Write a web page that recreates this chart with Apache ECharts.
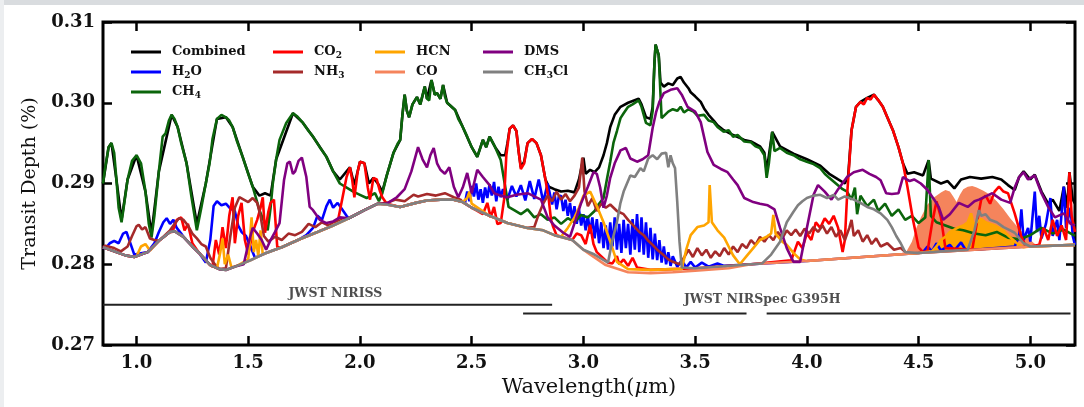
<!DOCTYPE html>
<html>
<head>
<meta charset="utf-8">
<script src="https://cdn.jsdelivr.net/npm/echarts@6/dist/echarts.min.js"></script>
<style>
  html, body { margin: 0; padding: 0; background: #fff; }
  #chart { width: 1084px; height: 407px; }
</style>
</head>
<body>
<div id="chart"></div>
<script>
const serif = '"DejaVu Serif", "Liberation Serif", serif';

// Tick values of the wavelength axis (um)
const xTicks = [1.0, 1.5, 2.0, 2.5, 3.0, 3.5, 4.0, 4.5, 5.0];

// Shared continuum that every molecule sits on where it has no band
const floor = [[0.85,0.2821],[0.90,0.2816],[0.95,0.2811],[0.99,0.2809],[1.05,0.2815],[1.10,0.2829],[1.15,0.2840],[1.17,0.2841],[1.21,0.2834],[1.25,0.2822],[1.28,0.2814],[1.33,0.2799],[1.37,0.2794],[1.40,0.2793],[1.45,0.2798],[1.51,0.2805],[1.58,0.2814],[1.65,0.2821],[1.73,0.2831],[1.81,0.2840],[1.88,0.2848],[1.95,0.2857],[2.02,0.2867],[2.08,0.2875],[2.12,0.2874],[2.18,0.2871],[2.25,0.2876],[2.30,0.2879],[2.36,0.2880],[2.42,0.2880],[2.46,0.2877],[2.50,0.2870],[2.58,0.2860],[2.66,0.2851],[2.75,0.2845],[2.82,0.2842],[2.87,0.2836],[2.95,0.2830],[3.00,0.2818],[3.05,0.2812],[3.11,0.2802],[3.20,0.2794],[3.30,0.2793],[3.40,0.2794],[3.50,0.2795],[3.75,0.2800],[4.00,0.2804],[4.25,0.2809],[4.50,0.2814],[4.75,0.2818],[5.00,0.2822],[5.20,0.2824]];

const combined = [[0.85,0.2900],[0.875,0.2945],[0.888,0.2950],[0.91,0.2905],[0.933,0.2855],[0.96,0.2905],[1.0,0.2935],[1.04,0.2890],[1.067,0.2838],[1.10,0.2915],[1.157,0.2985],[1.184,0.2970],[1.224,0.2925],[1.27,0.2850],[1.31,0.2900],[1.36,0.2980],[1.40,0.2982],[1.43,0.2970],[1.475,0.2933],[1.52,0.2896],[1.55,0.2885],[1.575,0.2888],[1.60,0.2885],[1.625,0.2930],[1.70,0.2987],[1.745,0.2975],[1.79,0.2958],[1.85,0.2933],[1.88,0.2915],[1.91,0.2905],[1.94,0.2915],[1.955,0.2920],[1.975,0.2898],[2.0,0.2927],[2.02,0.2925],[2.04,0.2900],[2.06,0.2907],[2.08,0.2900],[2.10,0.2890],[2.12,0.2910],[2.15,0.2938],[2.18,0.2954],[2.19,0.2985],[2.20,0.3010],[2.21,0.2990],[2.22,0.2982],[2.235,0.2998],[2.255,0.3007],[2.27,0.2998],[2.29,0.3020],[2.30,0.3005],[2.32,0.3028],[2.335,0.3010],[2.345,0.3012],[2.36,0.3005],[2.372,0.3022],[2.39,0.3000],[2.426,0.2991],[2.46,0.2970],[2.50,0.2945],[2.525,0.2933],[2.55,0.2954],[2.565,0.2945],[2.58,0.2958],[2.605,0.2945],[2.63,0.2935],[2.65,0.2935],[2.66,0.2950],[2.67,0.2968],[2.685,0.2972],[2.70,0.2965],[2.71,0.2940],[2.72,0.2920],[2.735,0.2927],[2.75,0.2950],[2.77,0.2955],[2.79,0.2950],[2.81,0.2935],[2.83,0.2905],[2.845,0.2896],[2.87,0.2893],[2.90,0.2890],[2.93,0.2891],[2.96,0.2889],[2.98,0.2905],[3.0,0.2932],[3.01,0.2912],[3.03,0.2917],[3.05,0.2914],[3.07,0.2920],[3.09,0.2935],[3.105,0.2950],[3.12,0.2970],[3.14,0.2985],[3.166,0.2995],[3.20,0.3000],[3.247,0.3005],[3.26,0.2998],[3.28,0.2982],[3.30,0.2980],[3.31,0.2995],[3.318,0.3050],[3.323,0.3072],[3.337,0.3059],[3.345,0.3025],[3.36,0.3020],[3.38,0.3024],[3.40,0.3022],[3.42,0.3030],[3.435,0.3032],[3.45,0.3025],[3.47,0.3018],[3.48,0.3013],[3.50,0.3008],[3.525,0.3001],[3.54,0.2993],[3.56,0.2985],[3.583,0.2978],[3.60,0.2972],[3.628,0.2966],[3.67,0.2960],[3.72,0.2954],[3.75,0.2952],[3.79,0.2946],[3.81,0.2938],[3.82,0.2915],[3.845,0.2964],[3.88,0.2946],[3.94,0.2937],[4.0,0.2930],[4.06,0.2922],[4.10,0.2912],[4.14,0.2905],[4.17,0.2900],[4.185,0.2910],[4.20,0.2966],[4.22,0.2995],[4.24,0.3001],[4.27,0.3006],[4.30,0.3010],[4.32,0.3003],[4.34,0.2995],[4.36,0.2982],[4.385,0.2966],[4.41,0.2945],[4.43,0.2925],[4.45,0.2912],[4.48,0.2914],[4.52,0.2910],[4.545,0.2929],[4.555,0.2906],[4.60,0.2900],[4.63,0.2903],[4.66,0.2894],[4.69,0.2905],[4.73,0.2908],[4.78,0.2906],[4.83,0.2908],[4.87,0.2905],[4.90,0.2898],[4.93,0.2892],[4.95,0.2908],[4.97,0.2915],[5.0,0.2905],[5.02,0.2911],[5.05,0.2890],[5.08,0.2875],[5.10,0.2880],[5.13,0.2866],[5.15,0.2896],[5.165,0.2870],[5.175,0.2914],[5.19,0.2880],[5.20,0.2875]];

const ch4 = [[0.85,0.2900],[0.86,0.2920],[0.875,0.2945],[0.888,0.2950],[0.90,0.2938],[0.91,0.2905],[0.92,0.2870],[0.933,0.2852],[0.945,0.2875],[0.96,0.2905],[0.98,0.2928],[1.0,0.2935],[1.02,0.2925],[1.04,0.2890],[1.055,0.2850],[1.067,0.2833],[1.08,0.2860],[1.10,0.2915],[1.117,0.2958],[1.13,0.2962],[1.145,0.2978],[1.157,0.2985],[1.17,0.2980],[1.184,0.2970],[1.20,0.2950],[1.224,0.2925],[1.245,0.2885],[1.27,0.2842],[1.29,0.2870],[1.31,0.2900],[1.327,0.2925],[1.34,0.2955],[1.36,0.2980],[1.38,0.2985],[1.40,0.2982],[1.415,0.2978],[1.43,0.2970],[1.45,0.2952],[1.475,0.2933],[1.50,0.2912],[1.52,0.2896],[1.55,0.2867],[1.587,0.2842],[1.60,0.2870],[1.61,0.2900],[1.625,0.2930],[1.64,0.2954],[1.67,0.2975],[1.70,0.2987],[1.72,0.2983],[1.745,0.2975],[1.77,0.2965],[1.79,0.2958],[1.82,0.2945],[1.85,0.2933],[1.88,0.2915],[1.91,0.2900],[1.946,0.2894],[1.97,0.2890],[2.00,0.2886],[2.03,0.2882],[2.067,0.2888],[2.085,0.2878],[2.10,0.2888],[2.12,0.2910],[2.15,0.2938],[2.17,0.2950],[2.18,0.2954],[2.19,0.2985],[2.20,0.3010],[2.21,0.2990],[2.22,0.2982],[2.235,0.2998],[2.255,0.3007],[2.27,0.2998],[2.29,0.3020],[2.30,0.3005],[2.31,0.3003],[2.32,0.3028],[2.335,0.3010],[2.345,0.3012],[2.36,0.3005],[2.372,0.3022],[2.38,0.3008],[2.39,0.3000],[2.41,0.2995],[2.426,0.2991],[2.44,0.2980],[2.46,0.2970],[2.48,0.2958],[2.50,0.2945],[2.525,0.2933],[2.54,0.2945],[2.55,0.2954],[2.565,0.2945],[2.58,0.2958],[2.605,0.2945],[2.63,0.2929],[2.65,0.2896],[2.665,0.2871],[2.69,0.2867],[2.72,0.2862],[2.75,0.2868],[2.78,0.2858],[2.81,0.2862],[2.84,0.2855],[2.87,0.2858],[2.90,0.2850],[2.93,0.2857],[2.96,0.2852],[2.99,0.2861],[3.02,0.2858],[3.05,0.2866],[3.07,0.2875],[3.09,0.2882],[3.105,0.2905],[3.12,0.2927],[3.135,0.2951],[3.15,0.2965],[3.166,0.2981],[3.18,0.2987],[3.20,0.2995],[3.22,0.2998],[3.247,0.3003],[3.26,0.2995],[3.28,0.2975],[3.30,0.2972],[3.31,0.2990],[3.318,0.3050],[3.323,0.3072],[3.33,0.3065],[3.337,0.3059],[3.345,0.3010],[3.35,0.2981],[3.365,0.2985],[3.38,0.2989],[3.40,0.2992],[3.42,0.2990],[3.435,0.2995],[3.45,0.2988],[3.47,0.2992],[3.493,0.2989],[3.51,0.2984],[3.54,0.2985],[3.56,0.2978],[3.583,0.2976],[3.60,0.2970],[3.628,0.2964],[3.65,0.2966],[3.67,0.2958],[3.69,0.2960],[3.72,0.2952],[3.75,0.2951],[3.77,0.2946],[3.79,0.2944],[3.81,0.2935],[3.82,0.2907],[3.83,0.2925],[3.845,0.2964],[3.855,0.2940],[3.88,0.2944],[3.91,0.2938],[3.94,0.2935],[3.97,0.2930],[4.00,0.2927],[4.03,0.2924],[4.06,0.2919],[4.08,0.2912],[4.10,0.2907],[4.13,0.2900],[4.16,0.2893],[4.18,0.2890],[4.20,0.2880],[4.215,0.2895],[4.225,0.2862],[4.24,0.2885],[4.27,0.2872],[4.30,0.2880],[4.32,0.2866],[4.35,0.2875],[4.38,0.2860],[4.41,0.2868],[4.44,0.2855],[4.47,0.2860],[4.50,0.2851],[4.53,0.2858],[4.545,0.2929],[4.555,0.2860],[4.58,0.2852],[4.62,0.2848],[4.66,0.2844],[4.70,0.2842],[4.75,0.2838],[4.80,0.2836],[4.85,0.2840],[4.90,0.2833],[4.95,0.2831],[5.00,0.2836],[5.05,0.2845],[5.10,0.2838],[5.15,0.2843],[5.20,0.2835]];

// Bands above the continuum, one list per feature
const h2oBands = [
  [[0.86,0.2819],[0.88,0.2826],[0.90,0.2829],[0.92,0.2826],[0.94,0.2838],[0.955,0.2840],[0.97,0.2828],[0.99,0.2812]],
  [[1.08,0.2826],[1.10,0.2840],[1.12,0.2852],[1.135,0.2857],[1.15,0.2850],[1.165,0.2855],[1.18,0.2845],[1.20,0.2838]],
  [[1.31,0.2802],[1.33,0.2830],[1.345,0.2872],[1.36,0.2878],[1.38,0.2873],[1.40,0.2875],[1.42,0.2869],[1.44,0.2866],[1.455,0.2848],[1.47,0.2840],[1.49,0.2835],[1.51,0.2822],[1.53,0.2808]],
  [[1.76,0.2836],[1.79,0.2845],[1.81,0.2860],[1.83,0.2855],[1.85,0.2872],[1.865,0.2880],[1.88,0.2870],[1.90,0.2876],[1.92,0.2868],[1.94,0.2860]],
  [[2.47,0.2876],[2.48,0.2890],[2.49,0.2878],[2.50,0.2897],[2.51,0.2884],[2.52,0.2900],[2.53,0.2880],[2.54,0.2893],[2.55,0.2876],[2.56,0.2895],[2.57,0.2882],[2.58,0.2899],[2.59,0.2885],[2.60,0.2902],[2.61,0.2878],[2.62,0.2896],[2.63,0.2883],[2.64,0.2893],[2.66,0.2880],[2.68,0.2897],[2.70,0.2884],[2.72,0.2898],[2.74,0.2879],[2.76,0.2903],[2.78,0.2881],[2.80,0.2905],[2.82,0.2877],[2.84,0.2900],[2.86,0.2874],[2.87,0.2889],[2.88,0.2868],[2.89,0.2884],[2.90,0.2885],[2.91,0.2866],[2.92,0.2880],[2.93,0.2860],[2.94,0.2876],[2.95,0.2855],[2.96,0.2872],[2.97,0.2850],[2.98,0.2868],[2.99,0.2848],[3.00,0.2862],[3.01,0.2842],[3.02,0.2860],[3.03,0.2838],[3.04,0.2858],[3.05,0.2832],[3.06,0.2856],[3.07,0.2826],[3.08,0.2852],[3.09,0.2820],[3.10,0.2848],[3.11,0.2818],[3.12,0.2852],[3.13,0.2822],[3.14,0.2858],[3.15,0.2818],[3.16,0.2850],[3.17,0.2814],[3.18,0.2855],[3.19,0.2820],[3.20,0.2850],[3.21,0.2812],[3.22,0.2856],[3.23,0.2818],[3.24,0.2862],[3.25,0.2815],[3.26,0.2858],[3.27,0.2812],[3.28,0.2852],[3.29,0.2808],[3.30,0.2845],[3.31,0.2806],[3.32,0.2838],[3.33,0.2805],[3.34,0.2830],[3.35,0.2802],[3.36,0.2822],[3.37,0.2800],[3.38,0.2815],[3.39,0.2798],[3.40,0.2810],[3.42,0.2797],[3.44,0.2805],[3.46,0.2796],[3.48,0.2803],[3.50,0.2796],[3.53,0.2802],[3.56,0.2797],[3.60,0.2801],[3.63,0.2798]],
  [[4.52,0.2815],[4.54,0.2822],[4.56,0.2816],[4.58,0.2826],[4.60,0.2817],[4.64,0.2824],[4.66,0.2817],[4.69,0.2827],[4.71,0.2818]],
  [[4.93,0.2822],[4.95,0.2835],[4.96,0.2868],[4.97,0.2830],[4.99,0.2845],[5.00,0.2828],[5.02,0.2890],[5.03,0.2840],[5.04,0.2860],[5.05,0.2832],[5.07,0.2850],[5.09,0.2882],[5.10,0.2835],[5.12,0.2855],[5.13,0.2830],[5.15,0.2896],[5.16,0.2845],[5.18,0.2870],[5.19,0.2835]]
];

const co2Bands = [
  [[1.16,0.2840],[1.18,0.2855],[1.20,0.2858],[1.215,0.2842],[1.23,0.2850],[1.25,0.2826]],
  [[1.34,0.2797],[1.355,0.2830],[1.37,0.2812],[1.385,0.2846],[1.40,0.2820],[1.415,0.2860],[1.43,0.2883],[1.44,0.2826],[1.455,0.2860],[1.47,0.2876],[1.485,0.2830],[1.50,0.2812],[1.52,0.2840],[1.54,0.2855],[1.555,0.2870],[1.565,0.2883],[1.575,0.2839],[1.59,0.2865],[1.60,0.2876],[1.615,0.2880],[1.63,0.2821]],
  [[1.90,0.2852],[1.92,0.2880],[1.94,0.2908],[1.955,0.2920],[1.965,0.2905],[1.975,0.2883],[1.99,0.2915],[2.0,0.2927],[2.02,0.2925],[2.035,0.2895],[2.045,0.2880],[2.06,0.2907],[2.075,0.2905],[2.09,0.2890],[2.10,0.2883],[2.12,0.2875]],
  [[2.55,0.2862],[2.57,0.2876],[2.585,0.2858],[2.60,0.2871],[2.615,0.2850],[2.63,0.2851],[2.645,0.2880],[2.655,0.2935],[2.67,0.2968],[2.685,0.2972],[2.70,0.2965],[2.71,0.2940],[2.72,0.2918],[2.735,0.2925],[2.75,0.2950],[2.77,0.2955],[2.79,0.2950],[2.81,0.2935],[2.83,0.2905],[2.845,0.2880],[2.855,0.2855],[2.865,0.2846],[2.88,0.2836]],
  [[2.95,0.2830],[2.97,0.2838],[2.99,0.2836],[3.01,0.2825],[3.03,0.2849],[3.045,0.2825],[3.06,0.2815]],
  [[3.13,0.2801],[3.15,0.2810],[3.16,0.2800],[3.18,0.2806],[3.20,0.2798],[3.22,0.2808],[3.24,0.2796]],
  [[3.93,0.2805],[3.96,0.2828],[3.98,0.2820],[4.00,0.2838],[4.02,0.2830],[4.04,0.2852],[4.06,0.2845],[4.08,0.2857],[4.10,0.2850],[4.12,0.2860],[4.14,0.2845],[4.16,0.2815],[4.17,0.2830],[4.18,0.2885],[4.20,0.2966],[4.22,0.2995],[4.24,0.3001],[4.255,0.2998],[4.27,0.3006],[4.285,0.3004],[4.30,0.3010],[4.32,0.3003],[4.34,0.2995],[4.36,0.2982],[4.385,0.2966],[4.41,0.2945],[4.43,0.2925],[4.45,0.2896],[4.475,0.2855],[4.50,0.2821],[4.52,0.2815]],
  [[4.54,0.2816],[4.56,0.2850],[4.58,0.2878],[4.60,0.2858],[4.62,0.2820]],
  [[4.74,0.2818],[4.76,0.2850],[4.78,0.2880],[4.80,0.2885],[4.82,0.2875],[4.84,0.2890],[4.86,0.2896],[4.88,0.2890],[4.90,0.2888],[4.93,0.2863],[4.96,0.2834],[4.98,0.2822]],
  [[5.04,0.2824],[5.06,0.2845],[5.08,0.2830],[5.10,0.2855],[5.12,0.2835],[5.14,0.2848],[5.16,0.2830],[5.17,0.2880],[5.175,0.2914],[5.185,0.2860],[5.20,0.2840]]
];

const nh3Bands = [
  [[0.86,0.2823],[0.90,0.2820],[0.93,0.2816],[0.96,0.2822],[0.98,0.2835],[1.00,0.2847],[1.01,0.2849],[1.025,0.2843],[1.04,0.2846],[1.06,0.2832],[1.08,0.2830]],
  [[1.15,0.2842],[1.17,0.2850],[1.19,0.2857],[1.21,0.2855],[1.23,0.2848],[1.25,0.2838],[1.27,0.2832],[1.29,0.2825],[1.31,0.2822],[1.33,0.2808],[1.35,0.2800]],
  [[1.40,0.2795],[1.42,0.2835],[1.44,0.2870],[1.46,0.2883],[1.48,0.2880],[1.50,0.2877],[1.52,0.2882],[1.54,0.2876],[1.555,0.2860],[1.57,0.2835],[1.59,0.2828],[1.62,0.2834],[1.65,0.2830],[1.68,0.2838],[1.71,0.2836],[1.74,0.2840],[1.77,0.2850],[1.80,0.2846],[1.83,0.2852],[1.86,0.2848],[1.88,0.2852]],
  [[2.12,0.2876],[2.16,0.2880],[2.20,0.2878],[2.24,0.2886],[2.26,0.2884],[2.30,0.2887],[2.34,0.2885],[2.38,0.2888],[2.42,0.2883],[2.45,0.2880]],
  [[2.78,0.2846],[2.80,0.2862],[2.82,0.2875],[2.84,0.2885],[2.86,0.2878],[2.88,0.2890],[2.90,0.2880],[2.92,0.2887],[2.94,0.2878],[2.96,0.2885],[2.98,0.2895],[2.995,0.2932],[3.005,0.2890],[3.02,0.2872],[3.04,0.2882],[3.06,0.2866],[3.08,0.2875],[3.10,0.2870],[3.12,0.2874],[3.15,0.2866],[3.18,0.2862],[3.20,0.2855],[3.22,0.2849],[3.25,0.2840],[3.27,0.2836],[3.29,0.2829],[3.31,0.2824],[3.33,0.2818],[3.36,0.2811],[3.38,0.2806],[3.40,0.2803],[3.43,0.2800],[3.45,0.2808],[3.47,0.2818],[3.49,0.2809],[3.51,0.2820],[3.53,0.2811],[3.55,0.2818],[3.57,0.2808],[3.59,0.2816],[3.61,0.2810],[3.63,0.2820],[3.65,0.2812],[3.67,0.2822],[3.69,0.2815],[3.71,0.2825],[3.73,0.2820],[3.75,0.2830],[3.77,0.2824],[3.79,0.2834],[3.81,0.2828],[3.83,0.2836],[3.85,0.2830],[3.87,0.2840],[3.89,0.2832],[3.91,0.2842],[3.93,0.2836],[3.95,0.2843],[3.97,0.2835],[3.99,0.2844],[4.01,0.2838],[4.03,0.2846],[4.05,0.2840],[4.07,0.2848],[4.09,0.2838],[4.11,0.2846],[4.13,0.2834],[4.15,0.2842],[4.17,0.2830],[4.19,0.2845],[4.20,0.2855],[4.21,0.2835],[4.23,0.2842],[4.25,0.2828],[4.27,0.2836],[4.29,0.2825],[4.31,0.2832],[4.33,0.2822],[4.36,0.2826],[4.39,0.2818],[4.42,0.2820],[4.45,0.2813]]
];

// Upper edge of the dense HCN band near 4.75 um
const hcnLobe = [[4.56,0.2816],[4.58,0.2822],[4.60,0.2830],[4.62,0.2834],[4.64,0.2840],[4.66,0.2843],[4.68,0.2846],[4.70,0.2848],[4.72,0.2852],[4.735,0.2863],[4.745,0.2850],[4.76,0.2852],[4.78,0.2856],[4.80,0.2852],[4.82,0.2850],[4.84,0.2848],[4.86,0.2845],[4.88,0.2842],[4.90,0.2836],[4.92,0.2831],[4.94,0.2826],[4.97,0.2821]];

const hcnBands = [
  [[1.00,0.2810],[1.02,0.2822],[1.04,0.2825],[1.06,0.2817]],
  [[1.36,0.2795],[1.375,0.2815],[1.385,0.2832],[1.395,0.2800],[1.41,0.2812],[1.425,0.2796]],
  [[1.50,0.2806],[1.51,0.2840],[1.515,0.2858],[1.525,0.2815],[1.535,0.2830],[1.545,0.2810],[1.555,0.2842],[1.565,0.2812]],
  [[2.46,0.2877],[2.48,0.2882],[2.49,0.2890],[2.50,0.2875]],
  [[2.90,0.2834],[2.93,0.2845],[2.96,0.2858],[2.98,0.2870],[3.00,0.2885],[3.03,0.2890],[3.06,0.2872],[3.09,0.2852],[3.12,0.2828],[3.15,0.2803]],
  [[3.44,0.2794],[3.46,0.2818],[3.48,0.2836],[3.51,0.2846],[3.54,0.2848],[3.56,0.2852],[3.565,0.2898],[3.575,0.2852],[3.60,0.2842],[3.63,0.2833],[3.65,0.2822],[3.67,0.2811],[3.70,0.2800],[3.73,0.2810],[3.76,0.2820],[3.79,0.2830],[3.82,0.2834],[3.84,0.2838],[3.85,0.2861],[3.86,0.2838],[3.89,0.2828],[3.91,0.2824],[3.94,0.2814],[3.97,0.2806]],
  hcnLobe
];

const coBands = [
  [[3.02,0.2814],[3.10,0.2799],[3.20,0.2790],[3.30,0.2789],[3.40,0.2790],[3.50,0.2792],[3.65,0.2795]]
];

// Upper edge of the dense CO band near 4.6 um
const coLobe = [[4.44,0.2813],[4.47,0.2828],[4.49,0.2845],[4.51,0.2858],[4.54,0.2874],[4.57,0.2883],[4.60,0.2889],[4.62,0.2892],[4.64,0.2890],[4.655,0.2884],[4.67,0.2877],[4.685,0.2886],[4.70,0.2893],[4.72,0.2896],[4.74,0.2897],[4.76,0.2895],[4.79,0.2891],[4.82,0.2886],[4.85,0.2878],[4.88,0.2868],[4.91,0.2857],[4.94,0.2847],[4.97,0.2838],[5.00,0.2830],[5.03,0.2823]];

const dmsBands = [
  [[1.48,0.2800],[1.50,0.2825],[1.52,0.2845],[1.54,0.2838],[1.56,0.2830],[1.58,0.2818],[1.60,0.2830],[1.62,0.2840],[1.64,0.2851],[1.66,0.2904],[1.675,0.2925],[1.686,0.2927],[1.70,0.2912],[1.71,0.2915],[1.725,0.2928],[1.74,0.2932],[1.75,0.2920],[1.76,0.2908],[1.775,0.2871],[1.79,0.2867],[1.82,0.2855],[1.85,0.2851],[1.88,0.2853],[1.91,0.2858]],
  [[2.12,0.2875],[2.165,0.2883],[2.20,0.2893],[2.23,0.2915],[2.26,0.2945],[2.28,0.2930],[2.30,0.2920],[2.315,0.2935],[2.33,0.2944],[2.345,0.2925],[2.36,0.2917],[2.38,0.2912],[2.40,0.2920],[2.42,0.2896],[2.44,0.2883],[2.46,0.2895],[2.48,0.2913],[2.50,0.2888],[2.525,0.2917],[2.55,0.2908],[2.58,0.2898],[2.60,0.2888],[2.63,0.2885],[2.66,0.2883],[2.70,0.2886],[2.75,0.2888],[2.78,0.2884],[2.81,0.2880],[2.84,0.2858],[2.87,0.2848],[2.91,0.2839],[2.94,0.2834],[2.965,0.2855],[2.99,0.2876],[3.02,0.2896],[3.045,0.2914],[3.06,0.2912],[3.075,0.2895],[3.09,0.2870],[3.105,0.2885],[3.12,0.2907],[3.14,0.2925],[3.166,0.2941],[3.19,0.2944],[3.21,0.2931],[3.24,0.2927],[3.265,0.2930],[3.29,0.2935],[3.31,0.2969],[3.325,0.2988],[3.34,0.3001],[3.36,0.3012],[3.39,0.3016],[3.42,0.3018],[3.44,0.3010],[3.466,0.2995],[3.50,0.2989],[3.525,0.2976],[3.555,0.2939],[3.583,0.2923],[3.615,0.2918],[3.645,0.2914],[3.67,0.2905],[3.69,0.2898],[3.72,0.2882],[3.76,0.2877],[3.79,0.2875],[3.825,0.2873],[3.855,0.2868],[3.88,0.2845],[3.91,0.2820],[3.94,0.2803],[3.97,0.2803],[4.0,0.2845],[4.03,0.2886],[4.05,0.2898],[4.08,0.2890],[4.11,0.2880],[4.14,0.2893],[4.18,0.2908],[4.21,0.2914],[4.25,0.2917],[4.28,0.2912],[4.31,0.2908],[4.33,0.2904],[4.355,0.2888],[4.38,0.2887],[4.41,0.2888],[4.43,0.2908],[4.46,0.2903],[4.48,0.2905],[4.51,0.2900],[4.54,0.2892],[4.57,0.2880],[4.59,0.2871],[4.61,0.2855],[4.64,0.2862],[4.68,0.2876],[4.72,0.2871],[4.75,0.2878],[4.77,0.2880],[4.80,0.2884],[4.83,0.2888],[4.87,0.2880],[4.91,0.2876],[4.93,0.2895],[4.95,0.2908],[4.97,0.2914],[4.99,0.2905],[5.02,0.2910],[5.05,0.2888],[5.08,0.2871],[5.11,0.2858],[5.15,0.2863],[5.18,0.2850],[5.20,0.2848]]
];

const ch3clBands = [
  [[3.11,0.2802],[3.13,0.2830],[3.15,0.2852],[3.165,0.2875],[3.18,0.2890],[3.195,0.2900],[3.21,0.2910],[3.23,0.2908],[3.255,0.2919],[3.27,0.2915],[3.29,0.2931],[3.31,0.2935],[3.33,0.2930],[3.35,0.2937],[3.37,0.2938],[3.38,0.2920],[3.39,0.2935],[3.40,0.2925],[3.41,0.2919],[3.42,0.2877],[3.43,0.2828],[3.44,0.2796]],
  [[3.80,0.2801],[3.84,0.2812],[3.88,0.2828],[3.91,0.2852],[3.94,0.2865],[3.96,0.2873],[3.98,0.2878],[4.00,0.2882],[4.03,0.2885],[4.06,0.2886],[4.09,0.2882],[4.12,0.2886],[4.14,0.2880],[4.17,0.2884],[4.21,0.2880],[4.24,0.2876],[4.27,0.2871],[4.30,0.2868],[4.33,0.2863],[4.36,0.2855],[4.38,0.2846],[4.40,0.2835],[4.42,0.2826],[4.44,0.2815]],
  [[4.72,0.2818],[4.75,0.2842],[4.77,0.2867],[4.78,0.2860],[4.80,0.2862],[4.82,0.2855],[4.85,0.2852],[4.88,0.2846],[4.91,0.2842],[4.93,0.2839],[4.97,0.2826],[5.00,0.2822]]
];

// Instrument coverage lines and their captions
const niriss = [[0.85, 0.2750], [2.86, 0.2750]];
const nirspecA = [[2.73, 0.2739], [3.73, 0.2739]];
const nirspecB = [[3.82, 0.2739], [5.18, 0.2739]];
const instrumentLabels = [[1.89, 0.2764, 'JWST NIRISS'], [3.80, 0.2756, 'JWST NIRSpec G395H']];

// Put a molecule's bands on top of the shared continuum
function withFloor(bands) {
  const inBand = (x) => bands.some((b) => x >= b[0][0] && x <= b[b.length - 1][0]);
  const pts = floor.filter((p) => !inBand(p[0]));
  bands.forEach((b) => pts.push(...b));
  return pts.sort((a, b) => a[0] - b[0]);
}

// Closed outline of a dense band: upper edge out, continuum back
function bandOutline(lobe) {
  const x0 = lobe[0][0];
  const x1 = lobe[lobe.length - 1][0];
  return lobe.concat(floor.filter((p) => p[0] > x0 && p[0] < x1).reverse());
}

const lineSeries = [
  { name: 'Combined', color: '#000000', data: combined },
  { name: 'H2O', color: '#0000ff', data: withFloor(h2oBands) },
  { name: 'CH4', color: '#0b650b', data: ch4 },
  { name: 'CO2', color: '#ff0000', data: withFloor(co2Bands) },
  { name: 'NH3', color: '#a52a2a', data: withFloor(nh3Bands) },
  { name: 'HCN', color: '#ffa500', data: withFloor(hcnBands) },
  { name: 'CO', color: '#f5845c', data: withFloor(coBands) },
  { name: 'DMS', color: '#800080', data: withFloor(dmsBands) },
  { name: 'CH3Cl', color: '#808080', data: withFloor(ch3clBands) }
];

const chart = echarts.init(document.getElementById('chart'), null, { renderer: 'canvas' });

// Turns digits in a molecule name into subscripts
function sub(name) {
  return name.replace(/(\d)/g, '{s|$1}');
}

const legendText = {
  fontFamily: serif,
  fontWeight: 'bold',
  fontSize: 13,
  color: '#111',
  lineHeight: 16,
  padding: [0, 0, 0, 6],
  rich: {
    s: { fontFamily: serif, fontWeight: 'bold', fontSize: 9, lineHeight: 9, verticalAlign: 'bottom' }
  }
};

function legendColumn(names, left) {
  return {
    data: names,
    left: left,
    top: 44,
    orient: 'vertical',
    icon: 'rect',
    itemWidth: 30,
    itemHeight: 3,
    itemGap: 4,
    padding: 0,
    textStyle: legendText,
    formatter: sub,
    selectedMode: false
  };
}

const tickStyle = { inside: true, length: 9, lineStyle: { color: '#000', width: 2.5 } };

const series = lineSeries.map((s) => ({
  name: s.name,
  type: 'line',
  data: s.data,
  showSymbol: false,
  symbol: 'none',
  color: s.color,
  lineStyle: { color: s.color, width: 2.6 },
  z: 3,
  silent: true
}));

// Dense CO and HCN bands are drawn as filled shapes
[['CO band', coLobe, '#f5845c', 1], ['HCN band', hcnLobe, '#ffa500', 2]].forEach(([name, lobe, color, z]) => {
  const outline = bandOutline(lobe);
  series.push({
    name: name,
    type: 'custom',
    data: [lobe[0]],
    z: z,
    silent: true,
    renderItem: (params, api) => ({
      type: 'polygon',
      shape: { points: outline.map((p) => api.coord(p)) },
      style: { fill: color }
    })
  });
});

[niriss, nirspecA, nirspecB].forEach((d) => {
  series.push({
    type: 'line',
    data: d,
    symbol: 'none',
    silent: true,
    lineStyle: { color: '#222', width: 2 },
    z: 3
  });
});

series.push({
  type: 'scatter',
  data: instrumentLabels,
  symbolSize: 0,
  silent: true,
  label: {
    show: true,
    position: 'inside',
    formatter: (p) => p.value[2],
    fontFamily: serif,
    fontWeight: 'bold',
    fontSize: 12.5,
    color: '#222'
  }
});

chart.setOption({
  animation: false,
  backgroundColor: '#ffffff',
  graphic: [
    { type: 'rect', left: 0, top: 0, shape: { width: 1084, height: 5 }, style: { fill: '#d9dcdf' }, silent: true },
    { type: 'rect', left: 0, top: 0, shape: { width: 4, height: 407 }, style: { fill: '#eceef0' }, silent: true }
  ],
  grid: {
    left: 103,
    right: 9,
    top: 22,
    bottom: 62,
    show: true,
    borderColor: '#000',
    borderWidth: 3,
    backgroundColor: 'transparent'
  },
  legend: [
    legendColumn(['Combined', 'H2O', 'CH4'], 131),
    legendColumn(['CO2', 'NH3'], 273),
    legendColumn(['HCN', 'CO'], 375),
    legendColumn(['DMS', 'CH3Cl'], 483)
  ],
  xAxis: [
    {
      type: 'value',
      min: 0.85,
      max: 5.2,
      name: 'Wavelength({i|μ}m)',
      nameLocation: 'middle',
      nameGap: 27,
      nameTextStyle: {
        fontFamily: serif,
        fontSize: 21,
        color: '#111',
        rich: { i: { fontFamily: serif, fontSize: 21, fontStyle: 'italic', color: '#111' } }
      },
      axisLine: { show: false },
      splitLine: { show: false },
      axisTick: Object.assign({ customValues: xTicks }, tickStyle),
      axisLabel: {
        customValues: xTicks,
        formatter: (v) => v.toFixed(1),
        fontFamily: serif,
        fontWeight: 'bold',
        fontSize: 18,
        color: '#111',
        margin: 9
      }
    },
    {
      type: 'value',
      position: 'top',
      min: 0.85,
      max: 5.2,
      axisLine: { show: false },
      splitLine: { show: false },
      axisTick: Object.assign({ customValues: xTicks }, tickStyle),
      axisLabel: { show: false, customValues: xTicks }
    }
  ],
  yAxis: [
    {
      type: 'value',
      min: 0.27,
      max: 0.31,
      interval: 0.01,
      name: 'Transit Depth (%)',
      nameLocation: 'middle',
      nameGap: 63,
      nameTextStyle: { fontFamily: serif, fontSize: 19, color: '#111' },
      axisLine: { show: false },
      splitLine: { show: false },
      axisTick: tickStyle,
      axisLabel: {
        formatter: (v) => v.toFixed(2),
        fontFamily: serif,
        fontWeight: 'bold',
        fontSize: 18,
        color: '#111',
        margin: 8
      }
    },
    {
      type: 'value',
      position: 'right',
      min: 0.27,
      max: 0.31,
      interval: 0.01,
      axisLine: { show: false },
      splitLine: { show: false },
      axisTick: tickStyle,
      axisLabel: { show: false }
    }
  ],
  series: series
});
</script>
</body>
</html>
